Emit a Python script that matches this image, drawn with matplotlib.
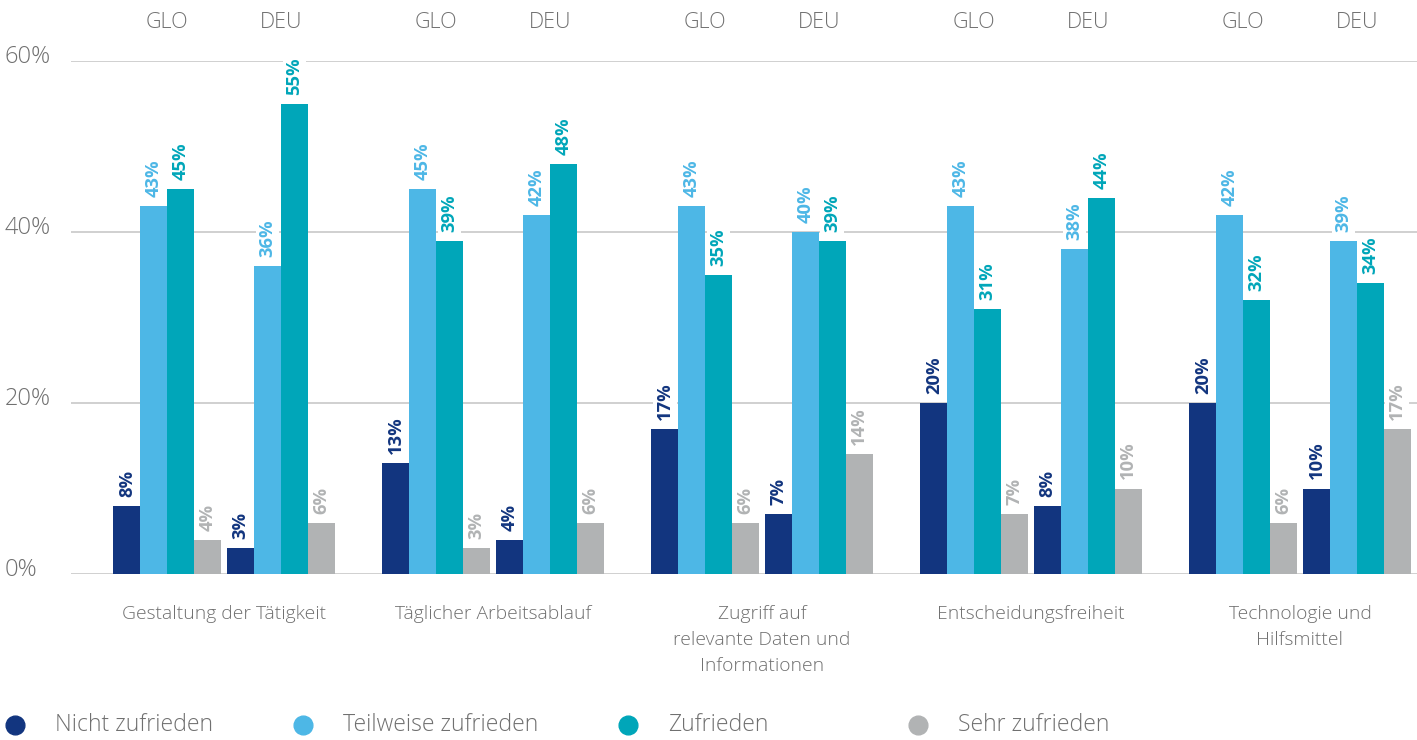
import numpy as np
import matplotlib.pyplot as plt
from matplotlib.lines import Line2D

plt.rcParams['font.family'] = ['Open Sans', 'DejaVu Sans']

# data
categories = ["Gestaltung der Tätigkeit", "Täglicher Arbeitsablauf",
              "Zugriff auf\nrelevante Daten und\nInformationen",
              "Entscheidungsfreiheit", "Technologie und\nHilfsmittel"]
regions = ["GLO", "DEU"]
series = ["Nicht zufrieden", "Teilweise zufrieden", "Zufrieden", "Sehr zufrieden"]

nicht_glo = [8, 13, 17, 20, 20]
teil_glo = [43, 45, 43, 43, 42]
zuf_glo = [45, 39, 35, 31, 32]
sehr_glo = [4, 3, 6, 7, 6]

nicht_deu = [3, 4, 7, 8, 10]
teil_deu = [36, 42, 40, 38, 39]
zuf_deu = [55, 48, 39, 44, 34]
sehr_deu = [6, 6, 14, 10, 17]

values = {"GLO": [nicht_glo, teil_glo, zuf_glo, sehr_glo],
          "DEU": [nicht_deu, teil_deu, zuf_deu, sehr_deu]}

colors = ["#12357f", "#4db7e6", "#00a6b9", "#b1b3b4"]
txt_grey = "#707070"
grid_grey = "#c8c8c8"

fig = plt.figure(figsize=(14.17, 7.40), dpi=100)
ax = fig.add_axes([0.0501, 0.2243, 0.9499, 0.6932])

cat_x = np.arange(len(categories)) * 10.0
bw = 1.0
sub_off = {"GLO": -2.11, "DEU": 2.11}

for reg in regions:
    for k, vals in enumerate(values[reg]):
        xs = cat_x + sub_off[reg] + (k - 1.5) * bw
        ax.bar(xs, vals, width=bw, color=colors[k], zorder=3)
        for x, v in zip(xs, vals):
            ax.annotate(f"{v}%", xy=(x, v), xytext=(0, 6.5), textcoords="offset points",
                        rotation=90, ha="center", va="bottom", fontsize=13.2,
                        fontweight="bold", color=colors[k], zorder=2,
                        bbox=dict(boxstyle="square,pad=0.15", fc="white", ec="none"))
    for cx in cat_x:
        ax.annotate(reg, xy=(cx + sub_off[reg], 1), xycoords=("data", "axes fraction"),
                    xytext=(0, 28), textcoords="offset points", ha="center", va="center",
                    fontsize=15.5, fontweight="light", color=txt_grey)

ax.set_xlim(-5.69, 44.35)
ax.set_ylim(0, 60)
ax.set_yticks([0, 20, 40, 60])
for y in [0, 20, 40, 60]:
    ax.axhline(y, color=grid_grey, lw=1.2, zorder=0)
    ax.annotate(f"{y}%", xy=(0, y), xycoords=("figure pixels", "data"),
                xytext=(5, 4), textcoords="offset pixels", ha="left", va="center",
                fontsize=17, fontweight="light", color=txt_grey, annotation_clip=False)
ax.set_yticklabels([])
ax.tick_params(axis="y", length=0)

ax.set_xticks(cat_x)
ax.set_xticklabels(categories, fontsize=13.9, fontweight="light", color=txt_grey,
                   linespacing=1.6, va="top")
ax.tick_params(axis="x", length=0, pad=22)

for s in ax.spines.values():
    s.set_visible(False)

# legend
mark_x = [15, 303, 628, 918]
leg_y = 1 - 725 / 740
for k, name in enumerate(series):
    fig.add_artist(Line2D([mark_x[k] / 1417], [leg_y], marker="o", markersize=13.5,
                          color=colors[k], linestyle="none", transform=fig.transFigure))
    fig.text((mark_x[k] + 40) / 1417, leg_y, name, ha="left", va="center",
             fontsize=16.6, fontweight="light", color=txt_grey)

fig.savefig("out.png", dpi=100)
